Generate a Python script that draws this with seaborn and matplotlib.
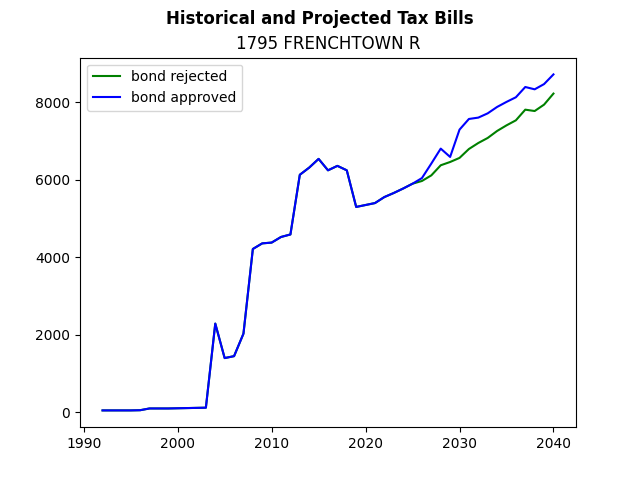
import pandas as pd
import seaborn as sns
import matplotlib
matplotlib.use("Agg")
import matplotlib.pyplot as plt

# Tax bill history (shared) and projections under each scenario
years = list(range(1992, 2041))

history = [50, 50, 50, 50, 55, 100, 100, 100, 105, 110, 115, 120,
           2290, 1400, 1450, 2030, 4215, 4360, 4380, 4525, 4590,
           6130, 6315, 6540, 6245, 6360, 6245, 5300, 5350, 5400,
           5555, 5660, 5775, 5900]

rejected_proj = [5970, 6115, 6375, 6460, 6565, 6795, 6950, 7080, 7260,
                 7405, 7535, 7810, 7775, 7940, 8225]
approved_proj = [6045, 6420, 6805, 6590, 7295, 7570, 7605, 7715, 7880,
                 8010, 8130, 8395, 8335, 8470, 8720]

bond_rejected = history + rejected_proj
bond_approved = history + approved_proj

df = pd.DataFrame({"year": years,
                   "bond rejected": bond_rejected,
                   "bond approved": bond_approved})

fig, ax = plt.subplots(figsize=(6.4, 4.8), dpi=100)
sns.lineplot(data=df, x="year", y="bond rejected", color="green", label="bond rejected", ax=ax)
sns.lineplot(data=df, x="year", y="bond approved", color="blue", label="bond approved", ax=ax)

ax.set_xlabel("")
ax.set_ylabel("")
ax.set_title("1795 FRENCHTOWN R")
fig.suptitle("Historical and Projected Tax Bills", fontweight="bold")
ax.legend(loc="upper left")

plt.savefig("out.png")
